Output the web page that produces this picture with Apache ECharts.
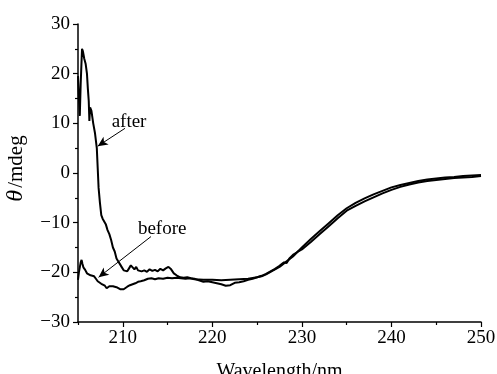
<!DOCTYPE html>
<html><head><meta charset="utf-8">
<script src="https://cdn.jsdelivr.net/npm/echarts@6/dist/echarts.min.js"></script>
<style>html,body{margin:0;padding:0;background:#fff}#c{width:497px;height:374px}</style>
</head><body><div id="c"></div>
<script>
const FONT = 'Liberation Serif';
const xTicks = [210, 220, 230, 240, 250];
const xMinorTicks = [205, 215, 225, 235, 245];
const afterData = [
[205.0,19.5],[205.1,15],[205.2,11.5],[205.3,18],[205.45,25],[205.55,24.5],[205.7,23],[205.85,22],[206.0,20],[206.1,17],[206.2,14.5],[206.27,10.5],[206.35,13.2],[206.5,12.5],[206.7,10],[206.9,8],[207.1,5],[207.2,1],[207.3,-3],[207.45,-6],[207.6,-8.5],[207.75,-9.2],[207.9,-9.6],[208.1,-10.3],[208.3,-11.5],[208.5,-12.3],[208.7,-13.5],[208.9,-15],[209.1,-15.8],[209.3,-17.2],[209.5,-17.8],[209.7,-18.4],[209.9,-19],[210.1,-19.6],[210.3,-19.5],[210.5,-19.8],[210.7,-19.2],[210.9,-18.6],[211.1,-18.3],[211.3,-19.4],[211.5,-18.9],[211.7,-19.6],[211.9,-19.2],[212.1,-19.8],[212.4,-19.6],[212.7,-19.9],[213.0,-19.4],[213.3,-19.7],[213.6,-19.5],[213.9,-19.8],[214.2,-19.3],[214.5,-19.6],[214.8,-19.2],[215.1,-18.9],[215.4,-19.4],[215.7,-20.2],[216.0,-20.6],[216.4,-21.0],[216.8,-21.1],[217.2,-21.0],[217.6,-21.2],[218.0,-21.3],[218.5,-21.6],[219,-21.9],[219.5,-21.8],[220,-22.0],[220.5,-22.2],[221,-22.4],[221.5,-22.7],[222,-22.6],[222.5,-22.1],[223,-22.0],[223.5,-21.8],[224,-21.5],[224.5,-21.3],[225,-21.0],[225.5,-20.7],[226,-20.3],[226.5,-19.8],[227,-19.3],[227.5,-18.7],[228,-18.0],[228.3,-18.1],[228.6,-17.2],[229,-16.5],[229.5,-15.9],[230,-15.4],[231,-13.9],[232,-12.3],[233,-10.7],[234,-9.1],[235,-7.6],[236,-6.6],[237,-5.7],[238,-4.9],[239,-4.1],[240,-3.4],[241,-2.8],[242,-2.3],[243,-1.9],[244,-1.6],[245,-1.4],[246,-1.2],[247,-1.0],[248,-0.9],[249,-0.8],[250,-0.6]
];
const beforeData = [
[205.0,-21.5],[205.1,-20],[205.2,-19],[205.3,-18],[205.4,-17.5],[205.5,-18.3],[205.6,-19.0],[205.8,-19.5],[206.0,-20.2],[206.2,-19.8],[206.4,-20.6],[206.6,-20.3],[206.8,-20.8],[207.0,-21.3],[207.2,-21.8],[207.4,-22.0],[207.6,-22.3],[207.8,-22.6],[208.0,-22.7],[208.2,-23.2],[208.35,-23.6],[208.5,-22.8],[208.7,-22.6],[208.9,-22.8],[209.1,-22.9],[209.3,-23.0],[209.5,-23.1],[209.7,-23.4],[209.9,-23.6],[210.1,-23.4],[210.3,-23.1],[210.5,-22.9],[210.8,-22.6],[211.1,-22.4],[211.4,-22.2],[211.7,-21.9],[212.0,-21.8],[212.4,-21.6],[212.8,-21.3],[213.2,-21.2],[213.6,-21.4],[214.0,-21.2],[214.5,-21.3],[215,-21.1],[215.5,-21.2],[216,-21.1],[216.5,-21.2],[217,-21.3],[217.5,-21.2],[218,-21.4],[219,-21.5],[220,-21.5],[221,-21.6],[222,-21.5],[223,-21.4],[224,-21.3],[225,-21.0],[225.5,-20.8],[226,-20.4],[226.5,-19.9],[227,-19.4],[227.5,-18.9],[228,-18.2],[229,-16.8],[230,-15.0],[231,-13.3],[232,-11.7],[233,-10.1],[234,-8.5],[235,-7.1],[236,-6.0],[237,-5.1],[238,-4.3],[239,-3.6],[240,-2.9],[241,-2.4],[242,-2.0],[243,-1.6],[244,-1.3],[245,-1.1],[246,-0.9],[247,-0.8],[248,-0.6],[249,-0.5],[250,-0.4]
];
// annotation labels: [x, y, text]
const annotLabels = [[210.7, 10.3, 'after'], [214.4, -11.3, 'before']];
// annotation arrows: [fromX, fromY, toX, toY]
const annotArrows = [[210.25, 9.0, 207.2, 5.4], [213.15, -12.8, 207.3, -21.0]];

const chart = echarts.init(document.getElementById('c'), null, {renderer: 'canvas'});
const FS = 19;
chart.setOption({
  animation: false,
  grid: {left: 78, right: 16, top: 24, bottom: 52, containLabel: false, outerBoundsMode: 'none'},
  xAxis: [{
    type: 'value', min: 205, max: 250,
    name: 'Wavelength/nm', nameLocation: 'middle', nameGap: 40,
    nameTextStyle: {color: '#000', fontFamily: FONT, fontSize: 20},
    axisLine: {onZero: false, lineStyle: {color: '#000', width: 1.5}},
    axisTick: {show: true, length: 5, customValues: xTicks, lineStyle: {color: '#000', width: 1.2}},
    axisLabel: {customValues: xTicks, color: '#000', fontFamily: FONT, fontSize: FS, margin: 7},
    splitLine: {show: false}
  }, {
    type: 'value', min: 205, max: 250, position: 'bottom',
    axisLine: {show: false, onZero: false},
    axisTick: {show: true, length: 3, customValues: xMinorTicks, lineStyle: {color: '#000', width: 1.2}},
    axisLabel: {show: false},
    splitLine: {show: false}
  }],
  yAxis: {
    type: 'value', min: -30, max: 30, interval: 10,
    name: '{i|θ}{n|/mdeg}', nameLocation: 'middle', nameRotate: 90, nameGap: 50,
    nameTextStyle: {color: '#000', fontFamily: FONT, fontSize: 21, padding: [0, 0, 0, 9],
      rich: {
        i: {fontStyle: 'italic', fontFamily: FONT, fontSize: 24, color: '#000', padding: [0, 2, 0, 0]},
        n: {fontFamily: FONT, fontSize: 21, color: '#000'}
      }},
    axisLine: {show: true, onZero: false, lineStyle: {color: '#000', width: 1.5}},
    axisTick: {show: true, length: 5, lineStyle: {color: '#000', width: 1.2}},
    minorTick: {show: true, splitNumber: 2, length: 3, lineStyle: {color: '#000', width: 1.2}},
    axisLabel: {color: '#000', fontFamily: FONT, fontSize: FS, margin: 8,
      formatter: v => (v < 0 ? '\u2212' + Math.abs(v) : String(v))},
    splitLine: {show: false}
  },
  series: [{
    name: 'after', type: 'line', data: afterData, showSymbol: false,
    lineStyle: {color: '#000', width: 2}, z: 3
  }, {
    name: 'before', type: 'line', data: beforeData, showSymbol: false,
    lineStyle: {color: '#000', width: 2}, z: 3
  }, {
    name: 'annot', type: 'scatter', symbolSize: 0,
    itemStyle: {opacity: 1, color: '#000'},
    data: annotLabels.map(a => ({value: [a[0], a[1]], name: a[2]})),
    label: {show: true, position: 'inside', formatter: p => p.name, color: '#000', opacity: 1, textBorderWidth: 0, fontFamily: FONT, fontSize: FS},
    markLine: {
      silent: true, symbol: ['none', 'arrow'], symbolSize: [7, 10],
      label: {show: false},
      lineStyle: {color: '#000', width: 1, type: 'solid', opacity: 1},
      data: annotArrows.map(a => [{coord: [a[0], a[1]]}, {coord: [a[2], a[3]]}])
    }
  }]
});
</script></body></html>
